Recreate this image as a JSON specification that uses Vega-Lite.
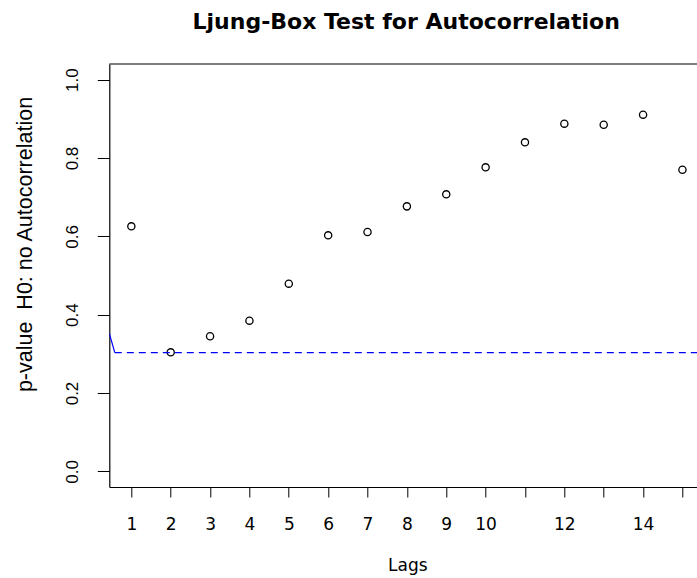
{
  "$schema": "https://vega.github.io/schema/vega-lite/v6.json",
  "autosize": "none",
  "width": 587.7,
  "height": 423,
  "padding": {"left": 109.3, "top": 64, "right": 0, "bottom": 91},
  "background": "white",
  "title": {
    "text": "Ljung-Box Test for Autocorrelation",
    "font": "DejaVu Sans",
    "fontSize": 22,
    "fontWeight": "bold",
    "color": "black",
    "anchor": "middle",
    "frame": "group",
    "baseline": "alphabetic",
    "offset": 12,
    "dx": 3
  },
  "config": {
    "view": {"stroke": null},
    "axis": {"grid": false, "domainColor": "black", "domainWidth": 1.2, "tickColor": "black", "tickWidth": 1, "labelColor": "black", "titleColor": "black", "titleFontWeight": "normal"}
  },
  "datasets": {
    "pvals": [
      {"lag": 1, "p": 0.6255},
      {"lag": 2, "p": 0.3038},
      {"lag": 3, "p": 0.3447},
      {"lag": 4, "p": 0.3847},
      {"lag": 5, "p": 0.4792},
      {"lag": 6, "p": 0.6025},
      {"lag": 7, "p": 0.611},
      {"lag": 8, "p": 0.6765},
      {"lag": 9, "p": 0.7072},
      {"lag": 10, "p": 0.7761},
      {"lag": 11, "p": 0.840},
      {"lag": 12, "p": 0.8877},
      {"lag": 13, "p": 0.885},
      {"lag": 14, "p": 0.9107},
      {"lag": 15, "p": 0.770}
    ],
    "solid": [
      {"lag": 0.44, "p": 0.352},
      {"lag": 0.58, "p": 0.303}
    ],
    "dashed": [
      {"lag": 0.58, "p": 0.303},
      {"lag": 15.37, "p": 0.303}
    ],
    "frame": [
      {"top": 1.04}
    ]
  },
  "layer": [
    {
      "data": {"name": "pvals"},
      "mark": {"type": "point", "shape": "circle", "filled": false, "stroke": "black", "strokeWidth": 1.3, "size": 52, "opacity": 1},
      "encoding": {
        "x": {
          "field": "lag", "type": "quantitative",
          "scale": {"domain": [0.44, 15.37], "nice": false, "zero": false},
          "axis": {
            "values": [1,2,3,4,5,6,7,8,9,10,11,12,13,14,15],
            "labelExpr": "datum.value == 11 || datum.value == 13 || datum.value == 15 ? '' : datum.label",
            "tickSize": 10,
            "labelFont": "DejaVu Sans",
            "labelFontSize": 17,
            "labelPadding": 19,
            "labelFlush": false,
            "labelOverlap": false,
            "title": "Lags",
            "titleFont": "DejaVu Sans",
            "titleFontSize": 17,
            "titleX": 298,
            "titleY": 78,
            "titleAlign": "center",
            "titleBaseline": "middle"
          }
        },
        "y": {
          "field": "p", "type": "quantitative",
          "scale": {"domain": [-0.04, 1.04], "nice": false, "zero": false},
          "axis": {
            "values": [0, 0.2, 0.4, 0.6, 0.8, 1.0],
            "format": ".1f",
            "tickSize": 12,
            "labelAngle": 270,
            "labelAlign": "center",
            "labelBaseline": "middle",
            "labelFont": "Liberation Sans",
            "labelFontSize": 17,
            "labelPadding": 25,
            "labelFlush": false,
            "labelOverlap": false,
            "title": "p-value\u00a0 H0: no Autocorrelation",
            "titleFont": "Liberation Sans",
            "titleFontSize": 21.5,
            "titleAngle": 270,
            "titleX": -84,
            "titleY": 180,
            "titleAlign": "center",
            "titleBaseline": "middle"
          }
        }
      }
    },
    {
      "data": {"name": "solid"},
      "mark": {"type": "line", "color": "blue", "strokeWidth": 1.2, "clip": true},
      "encoding": {
        "x": {"field": "lag", "type": "quantitative"},
        "y": {"field": "p", "type": "quantitative"}
      }
    },
    {
      "data": {"name": "dashed"},
      "mark": {"type": "line", "color": "blue", "strokeWidth": 1.1, "strokeDash": [7, 5], "clip": true},
      "encoding": {
        "x": {"field": "lag", "type": "quantitative"},
        "y": {"field": "p", "type": "quantitative"}
      }
    },
    {
      "data": {"name": "frame"},
      "mark": {"type": "rule", "color": "black", "strokeWidth": 1.2},
      "encoding": {
        "y": {"field": "top", "type": "quantitative"}
      }
    }
  ]
}
